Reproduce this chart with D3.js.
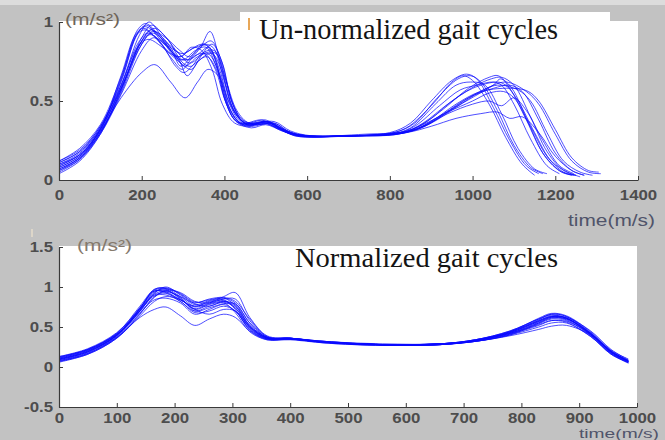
<!DOCTYPE html>
<html>
<head>
<meta charset="utf-8">
<script src="https://cdn.jsdelivr.net/npm/d3@7"></script>
<style>
  html, body { margin: 0; padding: 0; background: #c2c2c2; }
  svg { display: block; }
</style>
</head>
<body>
<div id="chart"></div>
<script>
// ---- data ----
// top panel: raw gait cycles, each a list of [time, acceleration]
const rawCycles = [
  [[0,0.11],[50,0.18],[100,0.33],[150,0.64],[190,0.95],[210,0.99],[240,0.92],[280,0.78],[300,0.76],[330,0.82],[355,0.84],[380,0.72],[405,0.48],[430,0.37],[470,0.35],[500,0.37],[530,0.33],[570,0.29],[680,0.28],[790,0.29],[840,0.33],[900,0.47],[950,0.62],[977,0.66],[1000,0.63],[1040,0.48],[1080,0.27],[1120,0.10],[1150,0.03]],
  [[0,0.08],[50,0.15],[100,0.32],[150,0.60],[195,0.92],[218,1.00],[250,0.90],[285,0.78],[310,0.76],[340,0.83],[365,0.94],[390,0.74],[420,0.45],[450,0.36],[500,0.37],[540,0.32],[580,0.28],[700,0.28],[820,0.29],[870,0.34],[930,0.45],[990,0.58],[1040,0.65],[1062,0.66],[1090,0.58],[1130,0.38],[1170,0.17],[1210,0.06],[1240,0.03]],
  [[0,0.05],[50,0.13],[100,0.30],[150,0.56],[200,0.88],[230,0.96],[260,0.90],[300,0.74],[320,0.72],[345,0.80],[375,0.82],[400,0.66],[425,0.45],[455,0.35],[505,0.37],[545,0.32],[590,0.28],[720,0.28],[830,0.30],[880,0.36],[940,0.48],[1000,0.58],[1060,0.62],[1080,0.60],[1110,0.50],[1150,0.30],[1190,0.12],[1230,0.05],[1260,0.02]],
  [[0,0.07],[50,0.14],[100,0.31],[150,0.52],[200,0.68],[232,0.73],[270,0.62],[305,0.52],[335,0.62],[360,0.70],[385,0.66],[410,0.50],[440,0.38],[480,0.35],[520,0.36],[560,0.30],[600,0.28],[730,0.28],[840,0.30],[900,0.34],[960,0.39],[1020,0.42],[1060,0.43],[1090,0.39],[1120,0.40],[1160,0.30],[1200,0.15],[1240,0.06],[1270,0.03]],
  [[0,0.12],[50,0.19],[100,0.34],[150,0.62],[185,0.90],[205,0.97],[235,0.93],[275,0.80],[295,0.72],[325,0.80],[350,0.86],[375,0.78],[400,0.52],[425,0.38],[460,0.34],[495,0.37],[530,0.34],[570,0.28],[690,0.28],[800,0.30],[850,0.36],[900,0.50],[950,0.63],[985,0.67],[1010,0.64],[1050,0.46],[1090,0.25],[1130,0.09],[1160,0.04]],
  [[0,0.09],[50,0.16],[100,0.32],[150,0.58],[200,0.86],[225,0.93],[255,0.88],[290,0.80],[315,0.74],[340,0.78],[370,0.86],[395,0.74],[420,0.48],[450,0.37],[510,0.36],[550,0.31],[600,0.28],[720,0.28],[840,0.30],[890,0.35],[950,0.45],[1010,0.55],[1060,0.60],[1110,0.57],[1140,0.50],[1180,0.30],[1220,0.12],[1260,0.05],[1290,0.03]],
  [[0,0.06],[50,0.13],[100,0.29],[150,0.54],[200,0.82],[228,0.90],[260,0.85],[295,0.74],[320,0.70],[350,0.80],[380,0.80],[405,0.62],[430,0.44],[460,0.36],[520,0.37],[560,0.31],[610,0.28],[740,0.29],[850,0.31],[900,0.36],[960,0.46],[1020,0.56],[1080,0.62],[1130,0.56],[1160,0.48],[1200,0.29],[1240,0.12],[1280,0.05],[1310,0.04]],
  [[0,0.10],[50,0.17],[100,0.33],[150,0.63],[190,0.93],[212,0.98],[245,0.89],[280,0.82],[300,0.80],[330,0.84],[360,0.85],[385,0.70],[410,0.46],[440,0.36],[490,0.38],[530,0.33],[570,0.28],[700,0.28],[810,0.29],[860,0.34],[920,0.47],[970,0.57],[1010,0.60],[1050,0.62],[1070,0.60],[1100,0.48],[1140,0.26],[1180,0.09],[1210,0.04]],
  [[0,0.04],[50,0.12],[100,0.29],[150,0.57],[195,0.86],[220,0.92],[250,0.87],[290,0.76],[310,0.66],[340,0.76],[370,0.80],[395,0.68],[420,0.46],[450,0.36],[500,0.36],[540,0.31],[590,0.28],[710,0.28],[830,0.30],[880,0.35],[940,0.43],[1000,0.50],[1040,0.55],[1075,0.56],[1100,0.52],[1140,0.34],[1180,0.15],[1220,0.05],[1250,0.03]],
  [[0,0.11],[50,0.18],[100,0.34],[150,0.60],[190,0.84],[215,0.89],[245,0.85],[285,0.76],[305,0.72],[335,0.78],[360,0.80],[390,0.66],[415,0.44],[445,0.35],[495,0.36],[535,0.32],[580,0.28],[700,0.28],[820,0.29],[870,0.33],[930,0.42],[990,0.52],[1050,0.58],[1090,0.60],[1120,0.56],[1160,0.38],[1200,0.17],[1240,0.06],[1270,0.03]],
  [[0,0.08],[50,0.15],[100,0.31],[150,0.58],[200,0.88],[222,0.95],[255,0.89],[290,0.78],[315,0.82],[345,0.86],[372,0.84],[398,0.64],[425,0.43],[455,0.35],[510,0.36],[550,0.30],[600,0.28],[730,0.28],[850,0.31],[900,0.37],[960,0.48],[1020,0.56],[1100,0.58],[1135,0.56],[1160,0.50],[1200,0.32],[1240,0.14],[1280,0.06],[1305,0.05]],
  [[0,0.10],[50,0.16],[100,0.32],[150,0.66],[185,0.92],[205,0.96],[235,0.90],[270,0.80],[295,0.78],[320,0.84],[345,0.82],[370,0.70],[395,0.48],[425,0.36],[470,0.34],[500,0.36],[535,0.32],[575,0.28],[690,0.28],[800,0.29],[850,0.33],[910,0.48],[960,0.60],[995,0.62],[1030,0.60],[1070,0.42],[1110,0.20],[1150,0.07],[1180,0.04]],
  [[0,0.12],[50,0.20],[100,0.35],[150,0.65],[188,0.92],[208,0.95],[240,0.88],[275,0.76],[298,0.70],[325,0.78],[352,0.80],[378,0.70],[402,0.50],[428,0.37],[465,0.33],[500,0.35],[540,0.31],[580,0.28],[700,0.28],[810,0.30],[860,0.36],[915,0.52],[965,0.64],[995,0.66],[1020,0.62],[1060,0.44],[1100,0.22],[1140,0.08],[1170,0.04]],
  [[0,0.06],[50,0.14],[100,0.30],[150,0.55],[198,0.85],[226,0.94],[258,0.90],[292,0.82],[315,0.78],[342,0.84],[368,0.88],[392,0.76],[418,0.50],[448,0.36],[505,0.37],[548,0.31],[595,0.28],[720,0.28],[835,0.30],[885,0.34],[945,0.44],[1005,0.53],[1050,0.60],[1068,0.64],[1095,0.58],[1135,0.36],[1175,0.15],[1215,0.05],[1245,0.03]],
  [[0,0.09],[50,0.16],[100,0.32],[150,0.59],[192,0.87],[216,0.93],[248,0.86],[282,0.72],[302,0.68],[330,0.74],[358,0.78],[384,0.68],[410,0.47],[438,0.36],[485,0.35],[520,0.36],[560,0.30],[600,0.28],[720,0.28],[830,0.30],[880,0.34],[940,0.42],[1000,0.48],[1040,0.50],[1070,0.47],[1100,0.52],[1130,0.44],[1170,0.25],[1210,0.09],[1245,0.04]],
  [[0,0.07],[50,0.14],[100,0.30],[150,0.57],[200,0.90],[224,0.98],[256,0.91],[290,0.80],[312,0.76],[338,0.80],[362,0.84],[388,0.70],[414,0.47],[444,0.36],[500,0.38],[540,0.32],[585,0.28],[710,0.28],[840,0.31],[890,0.37],[950,0.50],[1010,0.60],[1045,0.64],[1070,0.65],[1100,0.60],[1140,0.40],[1180,0.18],[1220,0.06],[1250,0.03]]
];

// bottom panel: normalized cycles on a shared time grid
const normTime = [0, 50, 100, 140, 165, 185, 210, 235, 260, 285, 305, 330, 360, 400, 460, 560, 660, 720, 780, 830, 852, 878, 920, 955, 985];
const normCycles = [
  [0.12,0.22,0.42,0.76,0.97,0.98,0.88,0.76,0.82,0.84,0.72,0.46,0.35,0.36,0.31,0.28,0.28,0.33,0.43,0.58,0.64,0.61,0.40,0.17,0.06],
  [0.08,0.18,0.38,0.70,0.92,1.00,0.90,0.78,0.83,0.86,0.80,0.55,0.37,0.35,0.32,0.28,0.29,0.34,0.44,0.59,0.66,0.63,0.43,0.20,0.08],
  [0.10,0.20,0.40,0.72,0.94,0.96,0.86,0.72,0.78,0.81,0.74,0.50,0.36,0.36,0.31,0.27,0.29,0.32,0.41,0.55,0.62,0.60,0.41,0.19,0.07],
  [0.06,0.16,0.36,0.66,0.88,0.94,0.88,0.80,0.85,0.87,0.82,0.60,0.38,0.35,0.31,0.28,0.28,0.33,0.43,0.57,0.63,0.62,0.45,0.22,0.09],
  [0.13,0.23,0.43,0.74,0.95,0.93,0.82,0.70,0.76,0.80,0.68,0.44,0.34,0.35,0.30,0.27,0.28,0.32,0.40,0.54,0.60,0.58,0.39,0.16,0.05],
  [0.09,0.19,0.39,0.70,0.90,0.92,0.84,0.75,0.80,0.88,0.93,0.62,0.39,0.36,0.32,0.28,0.29,0.34,0.45,0.60,0.65,0.61,0.42,0.20,0.08],
  [0.11,0.21,0.41,0.68,0.84,0.86,0.80,0.66,0.72,0.78,0.70,0.48,0.35,0.35,0.31,0.28,0.28,0.33,0.42,0.53,0.58,0.56,0.38,0.16,0.06],
  [0.07,0.17,0.37,0.62,0.72,0.75,0.64,0.52,0.60,0.66,0.62,0.45,0.34,0.34,0.30,0.27,0.28,0.32,0.39,0.47,0.51,0.52,0.40,0.19,0.07],
  [0.10,0.19,0.39,0.71,0.93,0.98,0.91,0.79,0.76,0.82,0.78,0.52,0.37,0.36,0.31,0.28,0.29,0.33,0.44,0.58,0.63,0.61,0.42,0.19,0.08],
  [0.12,0.22,0.41,0.70,0.89,0.90,0.82,0.68,0.70,0.76,0.70,0.47,0.35,0.35,0.31,0.28,0.28,0.32,0.40,0.50,0.55,0.55,0.38,0.17,0.05],
  [0.08,0.17,0.37,0.67,0.87,0.96,0.93,0.82,0.80,0.85,0.85,0.58,0.38,0.36,0.32,0.29,0.29,0.34,0.44,0.61,0.67,0.64,0.44,0.21,0.10],
  [0.11,0.21,0.40,0.73,0.96,0.97,0.85,0.73,0.79,0.82,0.76,0.51,0.36,0.35,0.31,0.28,0.29,0.33,0.42,0.56,0.62,0.59,0.40,0.18,0.06],
  [0.09,0.19,0.40,0.74,0.95,0.94,0.84,0.76,0.81,0.83,0.74,0.49,0.36,0.36,0.31,0.28,0.29,0.33,0.43,0.57,0.63,0.61,0.41,0.18,0.07],
  [0.13,0.22,0.42,0.72,0.91,0.95,0.87,0.70,0.74,0.79,0.79,0.55,0.37,0.35,0.31,0.28,0.28,0.33,0.42,0.55,0.61,0.60,0.42,0.20,0.08],
  [0.07,0.16,0.36,0.64,0.82,0.88,0.84,0.72,0.66,0.72,0.70,0.50,0.36,0.35,0.31,0.28,0.29,0.32,0.41,0.52,0.58,0.57,0.41,0.19,0.07],
  [0.10,0.20,0.40,0.73,0.97,0.99,0.92,0.81,0.84,0.86,0.77,0.52,0.37,0.36,0.32,0.28,0.29,0.34,0.45,0.60,0.66,0.63,0.42,0.19,0.07]
];

const topXTicks = [0, 200, 400, 600, 800, 1000, 1200, 1400];
const topYTicks = [0, 0.5, 1];
const bottomXTicks = [0, 100, 200, 300, 400, 500, 600, 700, 800, 900, 1000];
const bottomYTicks = [-0.5, 0, 0.5, 1, 1.5];

const width = 665;
const height = 440;
const lineColor = '#0a0aff';

const svg = d3.select('#chart')
    .append('svg')
    .attr('width', width)
    .attr('height', height)
    .style('font-family', '"Liberation Sans", Arial, sans-serif');

svg.append('rect').attr('width', width).attr('height', height).attr('fill', '#c2c2c2');
svg.append('rect').attr('width', width).attr('height', 5).attr('fill', '#dcdcdc');

// stretch text horizontally, the picture is a bit wider than its fonts
function stretch(sel, k) {
    sel.each(function() {
        const len = this.getComputedTextLength();
        d3.select(this).attr('textLength', len * k).attr('lengthAdjust', 'spacingAndGlyphs');
    });
}

function drawPanel(opts) {
    const x = d3.scaleLinear().domain(opts.xDomain).range([59, opts.right]);
    const y = d3.scaleLinear().domain(opts.yDomain).range([opts.bottom, opts.top]);

    // white plot area and title box
    svg.append('rect')
        .attr('x', x.range()[0]).attr('y', opts.top - 1)
        .attr('width', opts.right - 59).attr('height', opts.bottom - opts.top + 1)
        .attr('fill', '#fff');
    svg.append('rect')
        .attr('x', opts.titleBox[0]).attr('y', opts.titleBox[1])
        .attr('width', opts.titleBox[2]).attr('height', opts.titleBox[3])
        .attr('fill', '#fff');

    const line = d3.line()
        .x(d => x(d[0]))
        .y(d => y(d[1]))
        .curve(d3.curveCatmullRom.alpha(0.5));

    svg.append('g')
        .selectAll('path')
        .data(opts.curves)
        .join('path')
        .attr('d', line)
        .attr('fill', 'none')
        .attr('stroke', lineColor)
        .attr('stroke-width', 1)
        .attr('stroke-opacity', 0.72);

    const gx = svg.append('g')
        .attr('transform', `translate(0,${opts.bottom})`)
        .call(d3.axisBottom(x).tickValues(opts.xTicks).tickSizeInner(-4).tickSizeOuter(0)
            .tickPadding(opts.xPad).tickFormat(d => String(d)));
    const gy = svg.append('g')
        .attr('transform', 'translate(59,0)')
        .call(d3.axisLeft(y).tickValues(opts.yTicks).tickSizeInner(-4).tickSizeOuter(0)
            .tickPadding(6).tickFormat(d => String(d)));

    [gx, gy].forEach(g => {
        g.select('.domain').attr('stroke', '#3a3a3a').attr('stroke-width', 1.2);
        g.selectAll('.tick line').attr('stroke', '#3a3a3a');
        g.selectAll('.tick text')
            .attr('fill', '#4d4d4d')
            .style('font-size', '14px')
            .style('font-weight', 'bold')
            .style('font-family', '"Liberation Sans", Arial, sans-serif')
            .call(stretch, 1.2);
    });

    svg.append('text')
        .attr('x', opts.title[1]).attr('y', opts.title[2])
        .attr('textLength', opts.title[3]).attr('lengthAdjust', 'spacingAndGlyphs')
        .style('font-family', '"Liberation Serif", "Times New Roman", serif')
        .style('font-size', opts.title[4] + 'px')
        .attr('fill', '#141414')
        .text(opts.title[0]);

    svg.append('text')
        .attr('x', opts.unit[0]).attr('y', opts.unit[1])
        .attr('textLength', 55).attr('lengthAdjust', 'spacingAndGlyphs')
        .style('font-size', '16px')
        .attr('fill', opts.unit[2])
        .text('(m/s²)');

    svg.append('text')
        .attr('x', opts.timeLabel[0]).attr('y', opts.timeLabel[1])
        .attr('textLength', opts.timeLabel[2]).attr('lengthAdjust', 'spacingAndGlyphs')
        .style('font-size', opts.timeLabel[3] + 'px')
        .attr('fill', '#50546a')
        .text('time(m/s)');
}

drawPanel({
    xDomain: [0, 1400], yDomain: [0, 1],
    right: 638, top: 22, bottom: 180,
    curves: rawCycles,
    xTicks: topXTicks, yTicks: topYTicks, xPad: 10,
    titleBox: [240, 12, 370, 40],
    title: ['Un-normalized gait cycles', 259, 39, 299, 29],
    unit: [65, 25, '#6e6458'],
    timeLabel: [568, 226, 87, 17]
});

drawPanel({
    xDomain: [0, 1000], yDomain: [-0.5, 1.5],
    right: 637, top: 247, bottom: 407,
    curves: normCycles.map(vals => vals.map((v, i) => [normTime[i], v])),
    xTicks: bottomXTicks, yTicks: bottomYTicks, xPad: 6,
    titleBox: [283, 246, 282, 30],
    title: ['Normalized gait cycles', 295, 267, 263, 28],
    unit: [77, 251, '#85796c'],
    timeLabel: [579, 437.5, 80, 12]
});

// little stray marks in the picture
svg.append('line').attr('x1', 249).attr('x2', 249).attr('y1', 18).attr('y2', 30)
    .attr('stroke', '#e08a20').attr('stroke-width', 1.5);
svg.append('line').attr('x1', 32).attr('x2', 32).attr('y1', 229).attr('y2', 237)
    .attr('stroke', '#e6dccb').attr('stroke-width', 1.5);
</script>
</body>
</html>
